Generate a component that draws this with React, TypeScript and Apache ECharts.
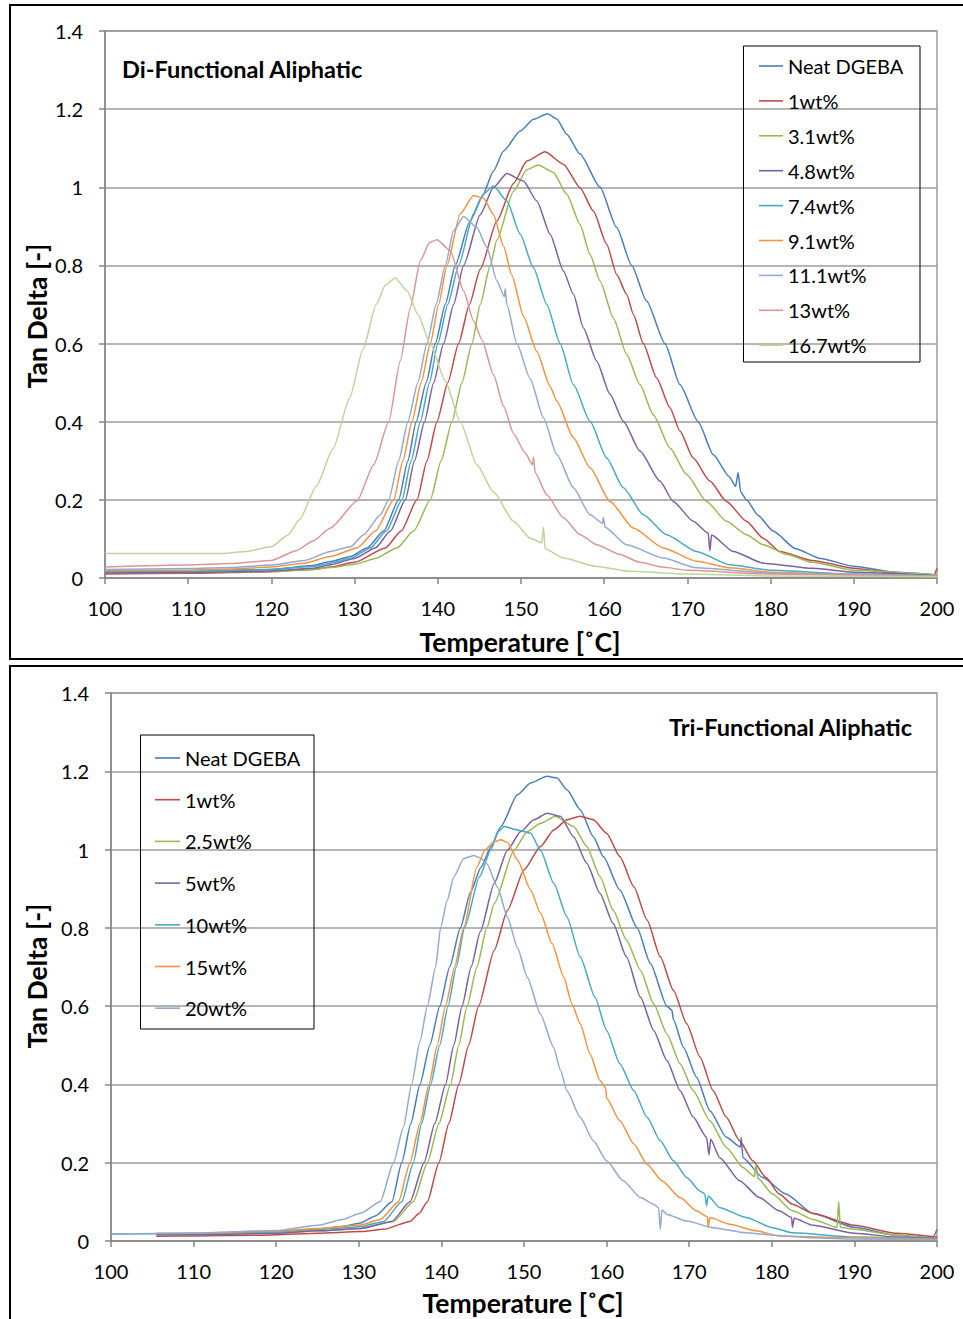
import React, { useEffect, useRef } from "react";
import * as echarts from "echarts";

// ---------- Data: top chart (Di-Functional Aliphatic) ----------
const topNames = ["Neat DGEBA", "1wt%", "3.1wt%", "4.8wt%", "7.4wt%", "9.1wt%", "11.1wt%", "13wt%", "16.7wt%"];
const topColors = ["#4A7EBB", "#BE4B48", "#98B954", "#7D60A0", "#46AAC5", "#F69240", "#93A9CF", "#D99795", "#BFD49A"];

const topNeat = [[100,0.015],[110,0.016],[120,0.022],[125,0.032],[127.1,0.042],[129.5,0.055],[131.5,0.077],[133.5,0.12],[135.3,0.2],[136.4,0.3],[137.4,0.4],[138.6,0.5],[139.7,0.6],[140.9,0.7],[142.1,0.8],[143.8,0.91],[145.3,0.975],[146.7,1.042],[147.9,1.093],[149.9,1.144],[151.5,1.174],[153.2,1.188],[154.3,1.175],[155.5,1.136],[157.1,1.085],[159.5,1.0],[161.5,0.897],[163.3,0.8],[165.1,0.709],[167.3,0.6],[169.1,0.495],[171.3,0.4],[173.1,0.316],[175,0.26],[175.8,0.235],[176.1,0.27],[176.4,0.22],[177.1,0.2],[178.5,0.16],[180.3,0.12],[183,0.075],[186,0.05],[190,0.03],[195,0.015],[200,0.008]];
const top1 = [[100,0.01],[110,0.012],[120,0.016],[125,0.022],[127.1,0.028],[130,0.04],[133.7,0.077],[135.6,0.12],[137.5,0.2],[138.7,0.3],[139.9,0.4],[141.2,0.5],[142.5,0.6],[143.8,0.7],[145.1,0.79],[147.1,0.914],[149.1,1.01],[150.7,1.067],[152.9,1.091],[155.1,1.059],[157.1,0.999],[158.7,0.939],[160.3,0.854],[161.5,0.777],[162.7,0.726],[163.5,0.675],[164.7,0.6],[166.3,0.512],[167.9,0.436],[169.1,0.376],[170.7,0.307],[172.7,0.248],[174.7,0.196],[177.1,0.145],[179.1,0.102],[181.1,0.068],[185,0.045],[190,0.025],[195,0.012],[199.6,0.006],[200,0.025]];
const top31 = [[100,0.013],[110,0.014],[120,0.017],[125,0.022],[127.1,0.027],[130,0.035],[132.5,0.05],[135.1,0.077],[137.1,0.12],[139.1,0.2],[140.4,0.3],[141.7,0.4],[142.9,0.5],[144.1,0.6],[145.1,0.7],[146.3,0.8],[147.1,0.865],[149.1,0.99],[150.7,1.045],[152.1,1.057],[153.9,1.038],[155.5,0.982],[157.1,0.905],[158.3,0.828],[159.5,0.76],[161.1,0.666],[162.7,0.572],[164.3,0.495],[165.9,0.418],[167.9,0.333],[169.9,0.265],[172.3,0.196],[174.7,0.145],[177.1,0.111],[179.1,0.085],[182,0.06],[185,0.04],[190,0.02],[200,0.008]];
const top48 = [[100,0.013],[110,0.014],[120,0.018],[125,0.025],[127.1,0.034],[130,0.05],[132.5,0.077],[134.3,0.12],[136.1,0.2],[137.2,0.3],[138.4,0.4],[139.5,0.5],[140.7,0.6],[141.9,0.7],[143.1,0.8],[145.1,0.93],[146.7,1.0],[148.3,1.035],[150.3,1.016],[151.9,0.965],[153.5,0.88],[155.1,0.786],[156.3,0.726],[157.5,0.64],[159.1,0.555],[160.7,0.47],[162.3,0.401],[164.3,0.325],[166.7,0.248],[168.3,0.196],[170.7,0.145],[172.5,0.115],[172.7,0.07],[172.9,0.11],[175.5,0.068],[179.1,0.038],[185,0.025],[190,0.015],[200,0.006]];
const top74 = [[100,0.018],[110,0.018],[120,0.022],[125,0.03],[127.1,0.038],[129.5,0.05],[131.9,0.077],[133.8,0.12],[135.7,0.2],[136.8,0.3],[137.9,0.4],[139,0.5],[140,0.6],[141.2,0.7],[142.5,0.8],[144.3,0.932],[145.5,0.983],[146.7,1.003],[148.3,0.965],[149.9,0.88],[151.5,0.794],[153.1,0.7],[154.7,0.6],[156.3,0.495],[158.3,0.401],[160.3,0.307],[162.3,0.231],[164.7,0.162],[167.5,0.111],[171.1,0.068],[175.1,0.034],[180,0.02],[190,0.01],[200,0.005]];
const top91 = [[100,0.02],[110,0.02],[115,0.023],[120,0.028],[124,0.038],[127.1,0.055],[130.3,0.077],[132.5,0.12],[134.7,0.2],[135.8,0.3],[136.9,0.4],[138,0.5],[139.1,0.6],[140.1,0.7],[141.1,0.8],[142.7,0.932],[144.3,0.979],[145.5,0.972],[146.7,0.93],[147.9,0.85],[148.9,0.775],[150.3,0.67],[151.9,0.58],[153.5,0.49],[154.3,0.453],[156.3,0.359],[158.3,0.282],[160.7,0.196],[163.5,0.128],[167.1,0.077],[171.1,0.043],[175.1,0.026],[180,0.015],[190,0.008],[200,0.004]];
const top111 = [[100,0.022],[110,0.024],[115,0.027],[120,0.033],[124,0.045],[127.1,0.068],[129.5,0.08],[131.1,0.111],[133.1,0.162],[134.1,0.2],[135.3,0.3],[136.4,0.4],[137.6,0.5],[138.7,0.6],[139.8,0.7],[140.9,0.8],[141.9,0.889],[143.1,0.925],[144.7,0.897],[145.9,0.846],[147.1,0.761],[148,0.72],[148.1,0.74],[148.3,0.7],[149.5,0.6],[151.1,0.51],[152.7,0.41],[154.3,0.316],[156.3,0.231],[158.3,0.162],[159.8,0.14],[159.9,0.155],[160.1,0.13],[162.7,0.085],[167.1,0.051],[171.1,0.026],[180,0.012],[200,0.005]];
const top13 = [[100,0.028],[110,0.033],[115,0.037],[120,0.045],[123,0.07],[125,0.095],[127.1,0.128],[130.3,0.197],[132.3,0.29],[134.1,0.4],[135.5,0.556],[136.7,0.692],[137.9,0.812],[139,0.858],[139.9,0.866],[141.5,0.838],[143.1,0.735],[144.3,0.658],[145.3,0.61],[146.7,0.52],[147.9,0.44],[149.1,0.37],[150.5,0.32],[151.4,0.29],[151.5,0.31],[151.7,0.27],[153.1,0.213],[155.1,0.154],[157.1,0.111],[159.1,0.085],[161.9,0.06],[164.3,0.04],[167,0.028],[170,0.02],[180,0.01],[200,0.004]];
const top167 = [[100,0.063],[114,0.063],[117,0.068],[120,0.08],[122,0.11],[123.4,0.15],[125.4,0.235],[127.4,0.33],[129.4,0.46],[131,0.585],[132.6,0.7],[133.7,0.75],[134.9,0.768],[136.3,0.735],[137.6,0.675],[139.1,0.6],[140.9,0.504],[142.7,0.4],[144.7,0.29],[146.7,0.22],[149.1,0.145],[151.1,0.102],[152.5,0.09],[152.7,0.13],[152.9,0.075],[155.1,0.051],[159,0.03],[163,0.017],[170,0.01],[180,0.005],[200,0.003]];
const topData = [topNeat, top1, top31, top48, top74, top91, top111, top13, top167];

// ---------- Data: bottom chart (Tri-Functional Aliphatic) ----------
const botNames = ["Neat DGEBA", "1wt%", "2.5wt%", "5wt%", "10wt%", "15wt%", "20wt%"];
const botColors = ["#4A7EBB", "#BE4B48", "#98B954", "#7D60A0", "#46AAC5", "#F69240", "#93A9CF"];

const botNeat = [[105.5,0.018],[110,0.019],[120,0.023],[125,0.03],[128,0.037],[130.2,0.046],[132,0.064],[134,0.1],[135.2,0.2],[136.3,0.3],[137.4,0.4],[138.6,0.5],[139.8,0.6],[141,0.7],[142.3,0.8],[143.5,0.89],[144.8,0.955],[146,1.007],[147.2,1.059],[149.2,1.14],[150.8,1.17],[152.8,1.187],[154,1.183],[155.2,1.153],[156.8,1.102],[158.4,1.033],[159.6,0.982],[161.6,0.897],[163.7,0.8],[165.3,0.709],[167.3,0.6],[167.9,0.59],[168.1,0.565],[169.3,0.495],[170.9,0.418],[172.5,0.333],[174.5,0.265],[176.2,0.24],[176.3,0.265],[176.5,0.213],[178.9,0.162],[181.7,0.12],[185,0.07],[190,0.035],[195,0.015],[199.5,0.008],[200,0.03]];
const bot1 = [[105.5,0.012],[110,0.013],[118,0.015],[125,0.02],[130.2,0.024],[133,0.03],[136.2,0.05],[137.3,0.07],[138.3,0.1],[139.7,0.2],[140.9,0.3],[142.1,0.4],[143.3,0.5],[144.5,0.6],[146.4,0.743],[148,0.845],[150,0.948],[152,1.008],[153.6,1.05],[155.2,1.076],[156.8,1.085],[158.4,1.076],[160,1.042],[161.6,0.982],[163.3,0.905],[164.9,0.82],[166.5,0.726],[168.1,0.64],[169.7,0.555],[171.3,0.47],[172.9,0.384],[174.5,0.316],[176.1,0.256],[177.7,0.205],[179.3,0.162],[180.9,0.12],[182.5,0.094],[185,0.07],[190,0.04],[195,0.02],[200,0.01]];
const bot25 = [[105.5,0.016],[110,0.016],[120,0.02],[125,0.026],[130.2,0.032],[134.2,0.05],[136.6,0.1],[138.3,0.2],[139.7,0.3],[141.1,0.4],[142.1,0.5],[143.1,0.6],[144.3,0.7],[145.5,0.8],[146.4,0.862],[148.8,0.999],[150.4,1.046],[152,1.067],[153.8,1.085],[156,1.059],[157.6,1.008],[159.2,0.931],[160.8,0.845],[162.4,0.769],[164.1,0.692],[165.7,0.606],[167.3,0.529],[168.9,0.453],[170.5,0.384],[172.5,0.307],[174.5,0.239],[176.5,0.188],[177.9,0.165],[178.1,0.195],[178.3,0.16],[180.1,0.12],[182.5,0.077],[185,0.055],[187.9,0.035],[188.1,0.1],[188.3,0.035],[190,0.03],[195,0.015],[200,0.006]];
const bot5 = [[105.5,0.016],[110,0.016],[120,0.02],[125,0.026],[130.2,0.032],[134,0.05],[136.2,0.1],[137.9,0.2],[139.2,0.3],[140.5,0.4],[141.5,0.5],[142.5,0.6],[143.6,0.7],[144.7,0.79],[146.4,0.914],[148,0.999],[149.6,1.046],[151.2,1.076],[152.8,1.093],[154.4,1.085],[156,1.033],[157.6,0.965],[159.2,0.888],[160.8,0.811],[162.4,0.726],[164.1,0.623],[165.7,0.538],[167.3,0.461],[168.9,0.384],[170.5,0.316],[172.1,0.265],[172.4,0.22],[172.6,0.26],[173.7,0.213],[176.1,0.154],[178.5,0.111],[180.9,0.077],[182.4,0.06],[182.5,0.035],[182.7,0.058],[185,0.04],[190,0.02],[195,0.01],[200,0.005]];
const bot10 = [[100,0.018],[110,0.019],[120,0.023],[125,0.03],[128,0.033],[130.2,0.037],[133,0.05],[135.2,0.1],[136.6,0.2],[137.6,0.3],[138.7,0.4],[139.8,0.5],[140.8,0.6],[141.8,0.7],[142.8,0.8],[144.6,0.93],[146,1.0],[146.8,1.045],[147.6,1.059],[149.2,1.05],[150.8,1.042],[152,0.998],[153.6,0.914],[155.2,0.828],[156.8,0.726],[158.6,0.623],[160,0.538],[161.6,0.453],[163.3,0.384],[164.9,0.316],[166.5,0.256],[168.1,0.205],[169.7,0.162],[171.3,0.128],[171.9,0.12],[172.1,0.09],[172.3,0.115],[173.7,0.085],[176.9,0.06],[180.1,0.034],[182.5,0.021],[190,0.01],[200,0.005]];
const bot15 = [[105.5,0.02],[110,0.02],[120,0.025],[125,0.032],[130.2,0.041],[132.6,0.055],[134.8,0.1],[136.2,0.2],[137.4,0.3],[138.5,0.4],[139.5,0.5],[140.5,0.6],[141.6,0.7],[142.7,0.8],[144.3,0.956],[145.3,1.0],[146.4,1.02],[147.2,1.025],[148,1.018],[149.2,0.974],[150.8,0.897],[152,0.837],[153.4,0.76],[154.8,0.675],[155.8,0.606],[156.8,0.555],[158,0.478],[159.2,0.41],[159.9,0.39],[160,0.365],[161.6,0.307],[163.3,0.248],[164.9,0.196],[166.7,0.154],[168.9,0.111],[170.9,0.077],[172.2,0.062],[172.3,0.035],[172.5,0.06],[174.9,0.043],[178.1,0.026],[180.9,0.013],[190,0.008],[200,0.004]];
const bot20 = [[100,0.018],[110,0.02],[120,0.027],[125,0.04],[128,0.055],[130.2,0.071],[132.6,0.1],[134.2,0.2],[135.4,0.29],[136.4,0.4],[137.4,0.51],[138.3,0.6],[139.3,0.7],[139.9,0.8],[140.7,0.87],[141.5,0.93],[142.7,0.977],[143.9,0.985],[144.8,0.978],[145.5,0.964],[146.8,0.904],[148,0.827],[149.2,0.75],[150.4,0.674],[152,0.579],[153.6,0.494],[154.4,0.437],[155.2,0.384],[156.8,0.316],[158.4,0.256],[160,0.205],[162,0.154],[164.1,0.111],[165.7,0.094],[166.3,0.085],[166.5,0.03],[166.7,0.08],[167.3,0.068],[169.7,0.051],[172.9,0.034],[176.9,0.021],[180,0.015],[185,0.008],[190,0.005],[200,0.003]];
const botData = [botNeat, bot1, bot25, bot5, bot10, bot15, bot20];

const yTicks = [0, 0.2, 0.4, 0.6, 0.8, 1, 1.2, 1.4];
const xTicks = [100, 110, 120, 130, 140, 150, 160, 170, 180, 190, 200];

const FONT = "Lato, 'Open Sans', sans-serif";
const GRID_COLOR = "#9d9d9d";
const AXIS_COLOR = "#868686";

function makeAxes(gridIndex: number) {
  const xAxis = {
    type: "value", gridIndex, min: xTicks[0], max: xTicks[xTicks.length - 1], interval: 10,
    axisLine: { show: true, onZero: false, lineStyle: { color: AXIS_COLOR, width: 1.5 } },
    axisTick: { show: true, length: 6, lineStyle: { color: AXIS_COLOR, width: 1.5 } },
    axisLabel: { margin: 20, fontSize: 20, color: "#000", fontFamily: FONT },
    splitLine: { show: false },
  };
  const yAxis = {
    type: "value", gridIndex, min: yTicks[0], max: yTicks[yTicks.length - 1], interval: 0.2,
    axisLine: { show: true, lineStyle: { color: AXIS_COLOR, width: 1.5 } },
    axisTick: { show: true, length: 6, lineStyle: { color: AXIS_COLOR, width: 1.5 } },
    axisLabel: { margin: 22, fontSize: 20, color: "#000", fontFamily: FONT,
      formatter: (v: number) => String(parseFloat(v.toFixed(1))) },
    splitLine: { show: true, lineStyle: { color: GRID_COLOR, width: 1.5 } },
  };
  return { xAxis, yAxis };
}

function makeSeries(names: string[], colors: string[], data: number[][][], idx: number) {
  return names.map((name, i) => ({
    name, type: "line", xAxisIndex: idx, yAxisIndex: idx, data: data[i],
    showSymbol: false, symbol: "none", smooth: 0.2, smoothMonotone: "x",
    lineStyle: { color: colors[i], width: 1.5 }, itemStyle: { color: colors[i] },
    emphasis: { disabled: true }, z: 2 + i,
  }));
}

function txt(text: string, x: number, y: number, size: number, bold: boolean, align: string, rotation = 0) {
  return {
    type: "text", x, y, rotation, z: 100,
    style: { text, fill: "#000", fontSize: size, fontWeight: bold ? "bold" : "normal", fontFamily: FONT,
      align, textAlign: align, verticalAlign: "middle", textVerticalAlign: "middle" },
  };
}

export default function App() {
  const ref = useRef<HTMLDivElement>(null);
  useEffect(() => {
    if (!ref.current) return;
    const chart = echarts.init(ref.current, undefined, { renderer: "svg" });
    const a0 = makeAxes(0);
    const a1 = makeAxes(1);
    const option = {
      animation: false,
      backgroundColor: "#fff",
      grid: [
        { left: 105, top: 31, width: 832, height: 547, show: true, borderColor: GRID_COLOR, borderWidth: 1.5, backgroundColor: "transparent" },
        { left: 111, top: 693, width: 826, height: 548, show: true, borderColor: GRID_COLOR, borderWidth: 1.5, backgroundColor: "transparent" },
      ],
      xAxis: [a0.xAxis, a1.xAxis],
      yAxis: [a0.yAxis, a1.yAxis],
      legend: [
        { data: topNames, orient: "vertical", left: 759, top: 55, padding: 0, itemWidth: 24, itemHeight: 1.6,
          icon: "rect", itemGap: 12.9, selectedMode: false,
          textStyle: { fontSize: 20, lineHeight: 22, color: "#000", fontFamily: FONT } },
        { data: botNames, orient: "vertical", left: 155, top: 747, padding: 0, itemWidth: 25, itemHeight: 1.6,
          icon: "rect", itemGap: 19.7, selectedMode: false,
          textStyle: { fontSize: 20, lineHeight: 22, color: "#000", fontFamily: FONT } },
      ],
      series: [
        ...makeSeries(topNames, topColors, topData, 0),
        ...makeSeries(botNames, botColors, botData, 1),
      ],
      graphic: [
        { type: "rect", shape: { x: 10, y: 5, width: 962, height: 654 }, style: { fill: "none", stroke: "#000", lineWidth: 2 }, z: 100 },
        { type: "rect", shape: { x: 10, y: 666, width: 962, height: 670 }, style: { fill: "none", stroke: "#000", lineWidth: 2 }, z: 100 },
        { type: "rect", shape: { x: 743.5, y: 46, width: 176.5, height: 316 }, style: { fill: "none", stroke: "#000", lineWidth: 1 }, z: 100 },
        { type: "rect", shape: { x: 140.5, y: 735, width: 173.5, height: 294 }, style: { fill: "none", stroke: "#000", lineWidth: 1 }, z: 100 },
        txt("Di-Functional Aliphatic", 122, 69, 23.5, true, "left"),
        txt("Tri-Functional Aliphatic", 912, 727, 23.5, true, "right"),
        txt("Temperature [˚C]", 520, 642, 26.5, true, "center"),
        txt("Temperature [˚C]", 523, 1303, 26.5, true, "center"),
        txt("Tan Delta [-]", 37, 316, 26.5, true, "center", Math.PI / 2),
        txt("Tan Delta [-]", 37, 976, 26.5, true, "center", Math.PI / 2),
      ],
    };
    chart.setOption(option as any);
    return () => chart.dispose();
  }, []);
  return <div ref={ref} style={{ position: "absolute", left: 0, top: 0, width: 963, height: 1319 }} />;
}
